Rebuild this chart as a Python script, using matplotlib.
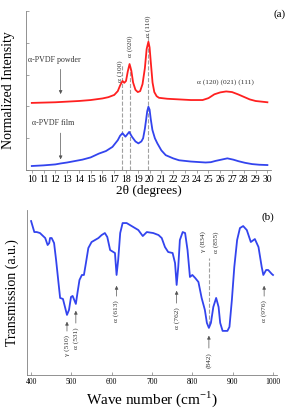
import numpy as np
import matplotlib
matplotlib.use('Agg')
from matplotlib import pyplot as plt

plt.rcParams['font.family'] = ['Liberation Serif', 'DejaVu Serif']
plt.rcParams['mathtext.fontset'] = 'custom'
plt.rcParams['mathtext.rm'] = 'Liberation Serif'

# XRD, 2theta (degrees) vs normalized intensity
xrd_x_powder = [10, 11, 12, 13, 14, 15, 16, 16.5, 17, 17.3, 17.5, 17.7, 17.85, 18.0, 18.15, 18.3,
                18.45, 18.6, 18.8, 19.0, 19.2, 19.4, 19.6, 19.75, 19.9, 20.0, 20.1, 20.25, 20.4,
                20.6, 20.8, 21.5, 22.5, 23.5, 24.5, 25, 25.5, 26, 26.5, 27, 27.5, 28, 28.5, 29, 29.5, 30]
xrd_powder = [2.11, 2.12, 2.13, 2.15, 2.17, 2.2, 2.25, 2.29, 2.36, 2.48, 2.66, 2.8, 2.74, 2.8, 3.1, 3.33,
              3.12, 2.75, 2.52, 2.45, 2.48, 2.7, 3.2, 3.8, 4.03, 3.85, 3.4, 2.75, 2.45,
              2.32, 2.27, 2.24, 2.22, 2.2, 2.2, 2.26, 2.38, 2.44, 2.47, 2.45, 2.38, 2.3, 2.22, 2.17, 2.15, 2.13]

xrd_x_film = [10, 11, 12, 12.45, 13, 14.3, 15, 15.7, 16.3, 16.85, 17.3, 17.5, 17.7, 17.95, 18.27, 18.5,
              18.8, 19.05, 19.3, 19.45, 19.6, 19.7, 19.8, 19.9, 20.0, 20.1, 20.24, 20.45, 20.66, 21.0,
              21.37, 22.0, 22.5, 23.5, 24.75, 25.2, 25.6, 26.1, 26.6, 27.1, 27.55, 28.1, 28.7, 29.3, 30]
xrd_film = [0.13, 0.15, 0.18, 0.21, 0.24, 0.33, 0.4, 0.52, 0.6, 0.73, 0.94, 1.08, 1.16, 1.05, 1.2, 1.05,
            0.9, 0.84, 0.9, 1.0, 1.3, 1.57, 1.85, 1.99, 1.9, 1.6, 1.26, 1.0, 0.84, 0.62,
            0.47, 0.37, 0.31, 0.27, 0.24, 0.25, 0.29, 0.33, 0.37, 0.33, 0.28, 0.23, 0.19, 0.17, 0.16]

xrd_peaks = [17.7, 18.3, 19.9]
xrd_peak_labels = ['α (100)', 'α (020)', 'α (110)']
xrd_label_x = [17.5, 18.33, 19.9]
xrd_label_y = [2.78, 3.55, 4.18]

# FTIR, wave number vs transmission
ir_x = [400, 408, 414, 422, 435, 441, 445, 447, 451, 457, 462, 468, 472, 479, 484, 489, 494, 499, 503,
        507, 511, 515, 520, 526, 531, 536, 542, 550, 567, 575, 583, 589, 596, 604, 608, 612, 616, 621,
        627, 637, 666, 677, 687, 703, 716, 724, 732, 740, 751, 757, 761, 765, 769, 776, 782, 788, 794,
        800, 807, 815, 823, 831, 836, 841, 846, 852, 859, 865, 869, 875, 887, 892, 898, 904, 911, 918,
        926, 935, 945, 955, 964, 972, 976, 983, 988, 997, 1000]
ir_t = [154, 143, 143, 142, 137, 130, 132, 137, 137, 132, 115, 92, 77, 76, 68, 60, 65, 78, 79,
        75, 71, 82, 95, 100, 100, 112, 127, 133, 137, 140, 142, 138, 125, 123, 122, 100, 115, 142,
        152, 152, 145, 139, 143, 142, 140, 137, 128, 123, 122, 112, 90, 108, 135, 143, 142, 125, 98,
        100, 97, 93, 77, 65, 52, 47, 52, 68, 77, 68, 52, 44, 44, 48, 75, 108, 135, 147,
        149, 145, 133, 136, 128, 108, 100, 105, 105, 101, 100]

ir_low_x = [489, 511, 612, 761, 841, 978]
ir_low_labels = ['γ (510)', 'α (531)', 'α (613)', 'α (762)', '(842)', 'α (976)']
ir_low_text = [40, 48, 75, 68, 23, 75]
ir_low_tip = [56, 67, 92, 87, 42, 92]
ir_high_x = [826, 859]
ir_high_labels = ['γ (834)', 'α (855)']

gray = '#808080'

fig = plt.figure(figsize=(2.91, 4.16), dpi=100)

# ---- (a) XRD ----
ax1 = fig.add_axes([0.089, 0.591, 0.842, 0.383])
for p in xrd_peaks:
    ax1.plot([p, p], [0, 4.3 if p > 19 else 3.3], ls='--', color='#a0a0a0', lw=0.8, zorder=1)
ax1.plot(xrd_x_powder, xrd_powder, color='#ff2020', lw=1.3, zorder=3)
ax1.plot(xrd_x_film, xrd_film, color='#3344ee', lw=1.3, zorder=3)
for x, y, s in zip(xrd_label_x, xrd_label_y, xrd_peak_labels):
    ax1.text(x, y, s, rotation=90, ha='center', va='bottom', fontsize=5.3, color='#333333')
ax1.text(26.45, 2.66, 'α (120) (021) (111)', ha='center', va='bottom', fontsize=5.3, color='#333333')
ax1.text(11.9, 3.46, 'α-PVDF powder', ha='center', va='center', fontsize=5.7, color='#333333')
ax1.annotate('', xy=(12.45, 2.3), xytext=(12.45, 3.25),
             arrowprops=dict(arrowstyle='-|>', color='#555555', lw=0.5, mutation_scale=5))
ax1.text(11.8, 1.48, 'α-PVDF film', ha='center', va='center', fontsize=5.7, color='#333333')
ax1.annotate('', xy=(12.45, 0.25), xytext=(12.45, 1.25),
             arrowprops=dict(arrowstyle='-|>', color='#555555', lw=0.5, mutation_scale=5))
ax1.set_xlim(9.5, 30.3)
ax1.set_ylim(0, 5)
ax1.set_xticks(range(10, 31))
ax1.set_yticks([0, 1, 2, 3, 4, 5])
ax1.set_yticklabels([])
ax1.tick_params(axis='x', direction='out', length=2, width=0.5, labelsize=7, pad=1.5, color=gray)
ax1.tick_params(axis='y', direction='in', length=2.5, width=0.5, color=gray)
for s in ['top', 'right']:
    ax1.spines[s].set_visible(False)
for s in ['left', 'bottom']:
    ax1.spines[s].set_color(gray)
    ax1.spines[s].set_linewidth(0.6)
ax1.set_xlabel('2θ (degrees)', fontsize=9.5, labelpad=1)
ax1.set_ylabel('Normalized Intensity', fontsize=10, labelpad=4)
fig.text(0.959, 0.966, '(a)', ha='center', va='center', fontsize=8)

# ---- (b) FTIR ----
ax2 = fig.add_axes([0.093, 0.099, 0.859, 0.396])
ax2.plot([841, 841], [50, 117], ls='--', color='#a0a0a0', lw=0.8, zorder=1)
ax2.plot(ir_x, ir_t, color='#3344ee', lw=1.3, zorder=3)
for x, s, yt, tip in zip(ir_low_x, ir_low_labels, ir_low_text, ir_low_tip):
    ax2.text(x, yt, s, rotation=90, ha='center', va='top', fontsize=5.3, color='#333333')
    ax2.annotate('', xy=(x, tip), xytext=(x, yt + 1),
                 arrowprops=dict(arrowstyle='-|>', color='#555555', lw=0.5, mutation_scale=5))
for x, s in zip(ir_high_x, ir_high_labels):
    ax2.text(x, 144, s, rotation=90, ha='center', va='top', fontsize=5.3, color='#333333')
ax2.set_xlim(390, 1010)
ax2.set_ylim(0, 165)
ax2.set_xticks(range(400, 1001, 100))
ax2.set_yticks([])
ax2.tick_params(axis='x', direction='in', length=2, width=0.5, labelsize=5.5, pad=2, color=gray)
for s in ['top', 'right']:
    ax2.spines[s].set_visible(False)
for s in ['left', 'bottom']:
    ax2.spines[s].set_color(gray)
    ax2.spines[s].set_linewidth(0.6)
ax2.set_xlabel(r'Wave number (cm$^{-1}$)', fontsize=11, labelpad=3)
ax2.set_ylabel('Transmission (a.u.)', fontsize=10, labelpad=6)
fig.text(0.921, 0.478, '(b)', ha='center', va='center', fontsize=8)

fig.savefig('out.png', dpi=100)
